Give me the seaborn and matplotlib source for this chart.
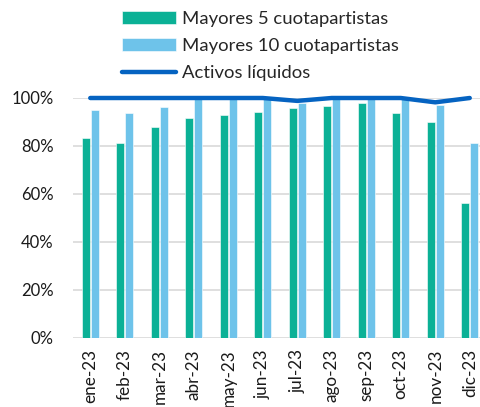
import pandas as pd
import matplotlib.pyplot as plt
import seaborn as sns

# --- data ---
months = ["ene-23", "feb-23", "mar-23", "abr-23", "may-23", "jun-23",
          "jul-23", "ago-23", "sep-23", "oct-23", "nov-23", "dic-23"]
top5 = [83.3, 81.4, 87.8, 91.7, 93.1, 94.2, 95.7, 96.5, 97.9, 93.9, 90.0, 56.4]
top10 = [94.9, 93.6, 96.1, 99.5, 99.8, 99.6, 97.8, 99.6, 99.8, 99.7, 97.0, 81.4]
liquid = [100, 100, 100, 100, 100, 100, 98.8, 100, 100, 100, 98.2, 100]

names = ["Mayores 5 cuotapartistas", "Mayores 10 cuotapartistas", "Activos líquidos"]
colors = ["#0BB196", "#6EC3EA", "#0563C1"]

df = pd.DataFrame({
    "mes": months * 2,
    "valor": top5 + top10,
    "serie": [names[0]] * len(months) + [names[1]] * len(months),
})

sns.set_style("white")
plt.rcParams["font.family"] = ["Lato", "DejaVu Sans"]

fig = plt.figure(figsize=(4.81, 4.07), dpi=100)
ax = fig.add_axes([73 / 481, 69 / 407, 414 / 481, 240 / 407])

sns.barplot(data=df, x="mes", y="valor", hue="serie", palette=colors[:2],
            saturation=1, width=0.52, gap=0.11, edgecolor="white",
            linewidth=0.4, ax=ax, zorder=2)
sns.lineplot(x=months, y=liquid, color=colors[2], linewidth=3.2, ax=ax,
             label=names[2], zorder=3, clip_on=False)

ax.set_ylim(0, 100)
ax.set_xlim(-0.5, 11.5)
ax.set_yticks(range(0, 101, 20))
ax.set_yticklabels([f"{v}%" for v in range(0, 101, 20)])
ax.grid(axis="y", color="#D9D9D9", linewidth=1.2, zorder=0)
ax.set_axisbelow(True)
ax.set_xlabel("")
ax.set_ylabel("")
sns.despine(ax=ax, left=True, bottom=True)
ax.tick_params(axis="y", length=0, pad=14, labelsize=12, colors="#1a1a1a")
ax.tick_params(axis="x", length=0, pad=8, labelsize=12.3, colors="#1a1a1a",
               rotation=90)

h, l = ax.get_legend_handles_labels()
ax.legend(h, l, loc="upper left", bbox_to_anchor=(111 / 481, 1.0),
          bbox_transform=fig.transFigure, frameon=False, fontsize=13.3,
          handlelength=2.9, handletextpad=0.35, labelspacing=0.6,
          borderaxespad=0.2)

fig.savefig("out.png", dpi=100)
